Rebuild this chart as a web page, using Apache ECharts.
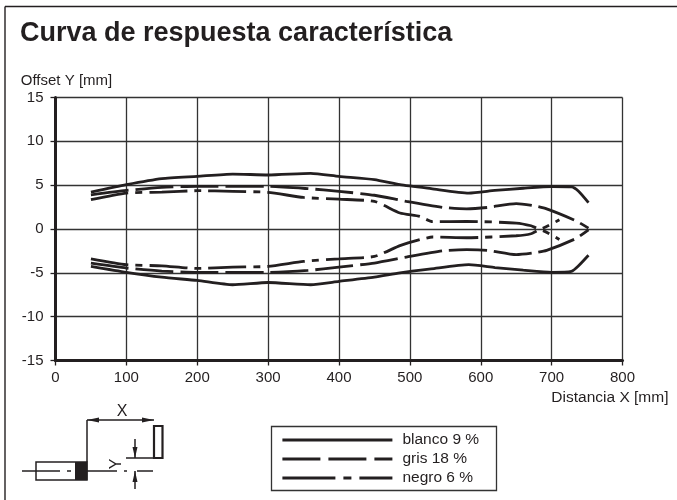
<!DOCTYPE html>
<html><head><meta charset="utf-8">
<style>html,body{margin:0;padding:0;background:#fff}#c{width:677px;height:500px}</style>
<script src="https://cdn.jsdelivr.net/npm/echarts@6/dist/echarts.min.js"></script>
</head><body><div id="c"></div>
<script>
const titleText = 'Curva de respuesta característica';
const xName = 'Distancia X [mm]';
const yName = 'Offset Y [mm]';
const names = ['blanco 9 %', 'gris 18 %', 'negro 6 %'];

const blancoUpper = [[50,4.2],[100,5.05],[150,5.74],[200,6.0],[250,6.27],[300,6.16],[360,6.35],[400,6.0],[450,5.63],[486,5.05],[530,4.6],[583,4.1],[620,4.4],[660,4.65],[700,4.85],[728,4.8],[738,4.3],[752,3.0]];
const blancoLower = [[50,-4.27],[100,-4.95],[150,-5.5],[200,-5.87],[250,-6.36],[300,-6.1],[360,-6.36],[400,-5.98],[450,-5.5],[486,-5.0],[530,-4.55],[583,-4.07],[620,-4.4],[660,-4.7],[700,-4.95],[728,-4.84],[738,-4.2],[752,-3.0]];
const grisUpper = [[50,3.9],[100,4.4],[150,4.75],[200,4.86],[300,4.86],[356,4.6],[400,4.3],[450,3.85],[495,3.15],[547,2.46],[580,2.3],[610,2.46],[650,2.9],[674,2.66],[693,2.3],[734,0.95],[752,0.1]];
const grisLower = [[50,-3.9],[100,-4.45],[150,-4.8],[200,-4.95],[300,-4.95],[356,-4.73],[400,-4.34],[450,-3.88],[495,-3.2],[547,-2.48],[580,-2.36],[610,-2.44],[650,-2.93],[674,-2.74],[693,-2.44],[734,-1.1],[752,-0.1]];
const negroUpper = [[50,3.35],[100,4.1],[150,4.2],[200,4.37],[250,4.3],[300,4.18],[350,3.6],[400,3.4],[450,3.15],[486,1.83],[514,1.44],[532,0.83],[580,0.87],[650,0.68],[671,0.37],[683,0],[711,1.06]];
const negroLower = [[50,-3.4],[100,-4.07],[150,-4.2],[200,-4.5],[250,-4.34],[300,-4.27],[350,-3.7],[400,-3.4],[450,-3.13],[486,-1.9],[514,-1.22],[532,-0.91],[580,-1.0],[650,-0.77],[671,-0.54],[683,-0.08],[711,-1.2]];

const ink = '#231f20';
const font = '"Liberation Sans", Arial, sans-serif';
const dashGris = [38,7];
const dashNegro = [38,7,7,7];

function curve(name, data, type){
  return {name, type:'line', data, symbol:'none', smooth:0.2, silent:true,
    lineStyle:{color:ink, width:2.8, type, cap:'butt'}, itemStyle:{color:ink}};
}
function ln(x1,y1,x2,y2,w){return {type:'line',silent:true,shape:{x1,y1,x2,y2},style:{stroke:ink,lineWidth:w||1.5}};}
function arrow(pts){return {type:'polygon',silent:true,shape:{points:pts},style:{fill:ink}};}
function txt(text,x,y,rot){return {type:'text',silent:true,x,y,rotation:rot||0,style:{text,font:'16px '+font,fill:ink,align:'center',verticalAlign:'middle'}};}

const graphic = [
  ln(5,6.5,677,6.5,1.6), ln(5,6.5,5,500,1.4),
  {type:'rect',silent:true,shape:{x:271.5,y:426.5,width:225,height:64},style:{fill:'none',stroke:'#333',lineWidth:1.3}},
  // sensor schematic
  {type:'rect',silent:true,shape:{x:36,y:462,width:51,height:18},style:{fill:'#fff',stroke:ink,lineWidth:1.5}},
  {type:'rect',silent:true,shape:{x:75,y:462,width:12.5,height:18},style:{fill:ink}},
  ln(22,471,60,471), ln(67,471,71,471), ln(87,471,117,471), ln(124,471,127,471), ln(137,471,153,471),
  ln(87,420,87,462), ln(87,420,154,420),
  arrow([[87,420],[99,417.5],[99,422.5]]), arrow([[154,420],[142,417.5],[142,422.5]]),
  {type:'rect',silent:true,shape:{x:154,y:426,width:8.5,height:32},style:{fill:'#fff',stroke:ink,lineWidth:2.2}},
  ln(126,458,153,458), ln(135,439,135,458), ln(135,471,135,489),
  arrow([[135,458],[132.5,447],[137.5,447]]), arrow([[135,471],[132.5,482],[137.5,482]]),
  txt('X',122,412), txt('Y',117,464,Math.PI/2)
];

const chart = echarts.init(document.getElementById('c'), null, {renderer:'canvas'});
chart.setOption({
  animation:false,
  backgroundColor:'#fff',
  title:{text:titleText,left:20,top:20,padding:0,textStyle:{fontFamily:font,fontSize:27,fontWeight:'bold',color:ink}},
  grid:{left:55.5,right:54.5,top:97.5,bottom:139.5,containLabel:false},
  xAxis:{type:'value',min:0,max:800,interval:100,name:xName,nameLocation:'end',nameGap:46,
    nameTextStyle:{fontFamily:font,fontSize:15.5,color:ink,align:'right',verticalAlign:'top',padding:[29,0,0,0]},
    axisLine:{show:true,onZero:false,lineStyle:{color:ink,width:3}},
    axisTick:{show:true,length:5,lineStyle:{color:ink,width:1.3}},
    axisLabel:{fontFamily:font,fontSize:15,color:ink,margin:10,showMinLabel:true,showMaxLabel:true},
    splitLine:{show:true,lineStyle:{color:'#333',width:1.3}}},
  yAxis:{type:'value',min:-15,max:15,interval:5,name:yName,nameLocation:'end',nameGap:9,
    nameTextStyle:{fontFamily:font,fontSize:15,color:ink,align:'center',padding:[0,0,0,22]},
    axisLine:{show:true,onZero:false,lineStyle:{color:ink,width:3}},
    axisTick:{show:true,length:5,lineStyle:{color:ink,width:1.3}},
    axisLabel:{fontFamily:font,fontSize:15,color:ink,margin:12,showMinLabel:true,showMaxLabel:true},
    splitLine:{show:true,lineStyle:{color:'#333',width:1.3}}},
  legend:{left:281,top:432,orient:'vertical',itemWidth:110,itemHeight:14,itemGap:3,padding:0,selectedMode:false,
    itemStyle:{opacity:0},
    lineStyle:{width:2.8,color:ink},
    textStyle:{fontFamily:font,fontSize:15.5,color:ink,padding:[0,0,0,5]},
    data:[{name:names[0],lineStyle:{width:2.8,color:ink}},
      {name:names[1],lineStyle:{width:2.8,color:ink,type:[38,8,38,8,18]}},
      {name:names[2],lineStyle:{width:2.8,color:ink,type:[53,8,8,8,33]}}]},
  graphic,
  series:[
    curve(names[0],blancoUpper,'solid'),curve(names[0],blancoLower,'solid'),
    curve(names[1],grisUpper,dashGris),curve(names[1],grisLower,dashGris),
    curve(names[2],negroUpper,dashNegro),curve(names[2],negroLower,dashNegro)
  ]
});
</script></body></html>
